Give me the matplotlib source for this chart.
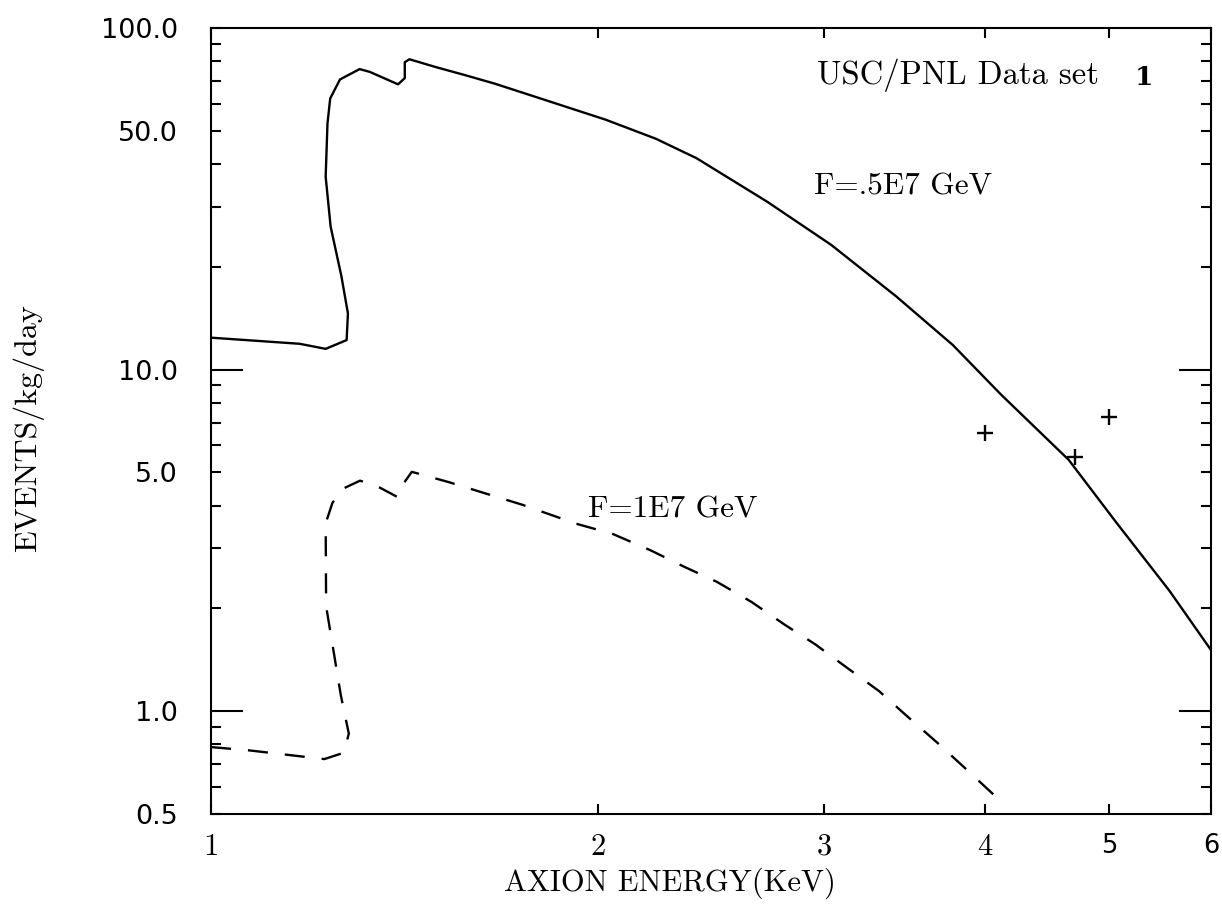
import matplotlib
matplotlib.use("Agg")
import matplotlib.pyplot as plt
from matplotlib.ticker import FixedLocator, FixedFormatter, NullLocator, NullFormatter

# courbe pleine : F = .5E7 GeV
e_05 = [1.0, 1.172, 1.228, 1.275, 1.278, 1.263, 1.239, 1.228, 1.232, 1.238,
        1.260, 1.305, 1.329, 1.398, 1.415, 1.415, 1.427, 1.493, 1.576, 1.663,
        1.797, 2.028, 2.219, 2.386, 2.709, 3.037, 3.412, 3.778, 4.116, 4.65,
        5.06, 5.57, 6.0]
r_05 = [12.4, 11.9, 11.5, 12.2, 14.6, 18.8, 26.2, 36.7, 52.5, 62.2,
        70.7, 75.8, 74.4, 68.4, 71.3, 79.4, 81.0, 77.0, 72.8, 68.7,
        62.5, 53.9, 47.4, 41.6, 31.0, 23.2, 16.4, 11.8, 8.47, 5.44,
        3.58, 2.25, 1.51]

# courbe tiretée : F = 1E7 GeV
e_1 = [1.0, 1.070, 1.225, 1.269, 1.280, 1.262, 1.229, 1.228, 1.243, 1.265,
       1.306, 1.352, 1.396, 1.413, 1.433, 1.532, 1.635, 1.747, 1.923, 2.055,
       2.197, 2.333, 2.476, 2.633, 2.796, 2.952, 3.117, 3.31, 3.477, 3.672,
       3.857, 4.074]
r_1 = [0.785, 0.768, 0.724, 0.756, 0.86, 1.11, 2.03, 3.55, 4.07, 4.47,
       4.73, 4.52, 4.24, 4.66, 5.02, 4.68, 4.34, 4.02, 3.54, 3.30,
       2.96, 2.65, 2.39, 2.09, 1.79, 1.57, 1.35, 1.145, 0.97, 0.81,
       0.684, 0.565]

# points mesurés
e_data = [4.0, 4.70, 5.0]
r_data = [6.5, 5.55, 7.25]

x_ticks = [1, 2, 3, 4, 5, 6]
x_labels = ['1', '2', '3', '4', '5', '6']
x_fonts = ['cmr10', 'cmr10', 'cmr10', 'cmr10', 'DejaVu Sans', 'DejaVu Sans']
x_sizes = [22, 22, 22, 22, 18.5, 18.5]
y_ticks = [0.5, 1, 5, 10, 50, 100]
y_labels = ['0.5', '1.0', '5.0', '10.0', '50.0', '100.0']
y_minor = [0.6, 0.7, 0.8, 0.9, 2, 3, 4, 6, 7, 8, 9, 20, 30, 40, 60, 70, 80, 90]

serif = ['cmr10', 'DejaVu Serif']

fig = plt.figure(figsize=(12.22, 9.09), dpi=100)
ax = fig.add_axes([0.1727, 0.1045, 0.8183, 0.8647])

ax.plot(e_05, r_05, color='black', lw=1.7)
ax.plot(e_1, r_1, color='black', lw=1.7, dashes=(8.5, 7.2))
ax.plot(e_data, r_data, ls='none', marker='+', ms=11.5, mew=1.7, color='black')

ax.set_xscale('log')
ax.set_yscale('log')
ax.set_xlim(1, 6)
ax.set_ylim(0.5, 100)

ax.xaxis.set_major_locator(FixedLocator(x_ticks))
ax.xaxis.set_major_formatter(FixedFormatter(x_labels))
ax.xaxis.set_minor_locator(NullLocator())
ax.xaxis.set_minor_formatter(NullFormatter())
ax.yaxis.set_major_locator(FixedLocator(y_ticks))
ax.yaxis.set_major_formatter(FixedFormatter(y_labels))
ax.yaxis.set_minor_locator(FixedLocator(y_minor))
ax.yaxis.set_minor_formatter(NullFormatter())

ax.tick_params(which='both', direction='in', top=True, right=True, width=1.5, length=7)
ax.tick_params(axis='x', pad=14)
ax.tick_params(axis='y', pad=24, labelsize=19.5)
for sp in ax.spines.values():
    sp.set_linewidth(1.5)

# graduations longues aux décades
for t, v in zip(ax.yaxis.get_major_ticks(), y_ticks):
    t.label1.set_fontfamily('DejaVu Sans')
    if v in (1, 10):
        t.tick1line.set_markersize(23)
        t.tick2line.set_markersize(23)
for t, f, s in zip(ax.xaxis.get_major_ticks(), x_fonts, x_sizes):
    t.label1.set_fontfamily(f)
    t.label1.set_fontsize(s)

ax.set_xlabel('AXION ENERGY(KeV)', family=serif, fontsize=22)
ax.xaxis.set_label_coords(0.459, -0.088)
ax.xaxis.label.set_va('center')
ax.set_ylabel('EVENTS/kg/day', family=serif, fontsize=23)
ax.yaxis.set_label_coords(-0.183, 0.491)
ax.yaxis.label.set_va('center')

ax.text(0.606, 0.940, 'USC/PNL Data set', transform=ax.transAxes,
        family=serif, fontsize=23.5, va='center', ha='left')
ax.text(0.933, 0.937, '1', transform=ax.transAxes,
        family='DejaVu Serif', fontweight='bold', fontsize=19, va='center', ha='center')
ax.text(0.603, 0.798, 'F=.5E7 GeV', transform=ax.transAxes,
        family=serif, fontsize=22.5, va='center', ha='left')
ax.text(0.377, 0.388, 'F=1E7 GeV', transform=ax.transAxes,
        family=serif, fontsize=22.5, va='center', ha='left')

fig.savefig('out.png', dpi=100)
